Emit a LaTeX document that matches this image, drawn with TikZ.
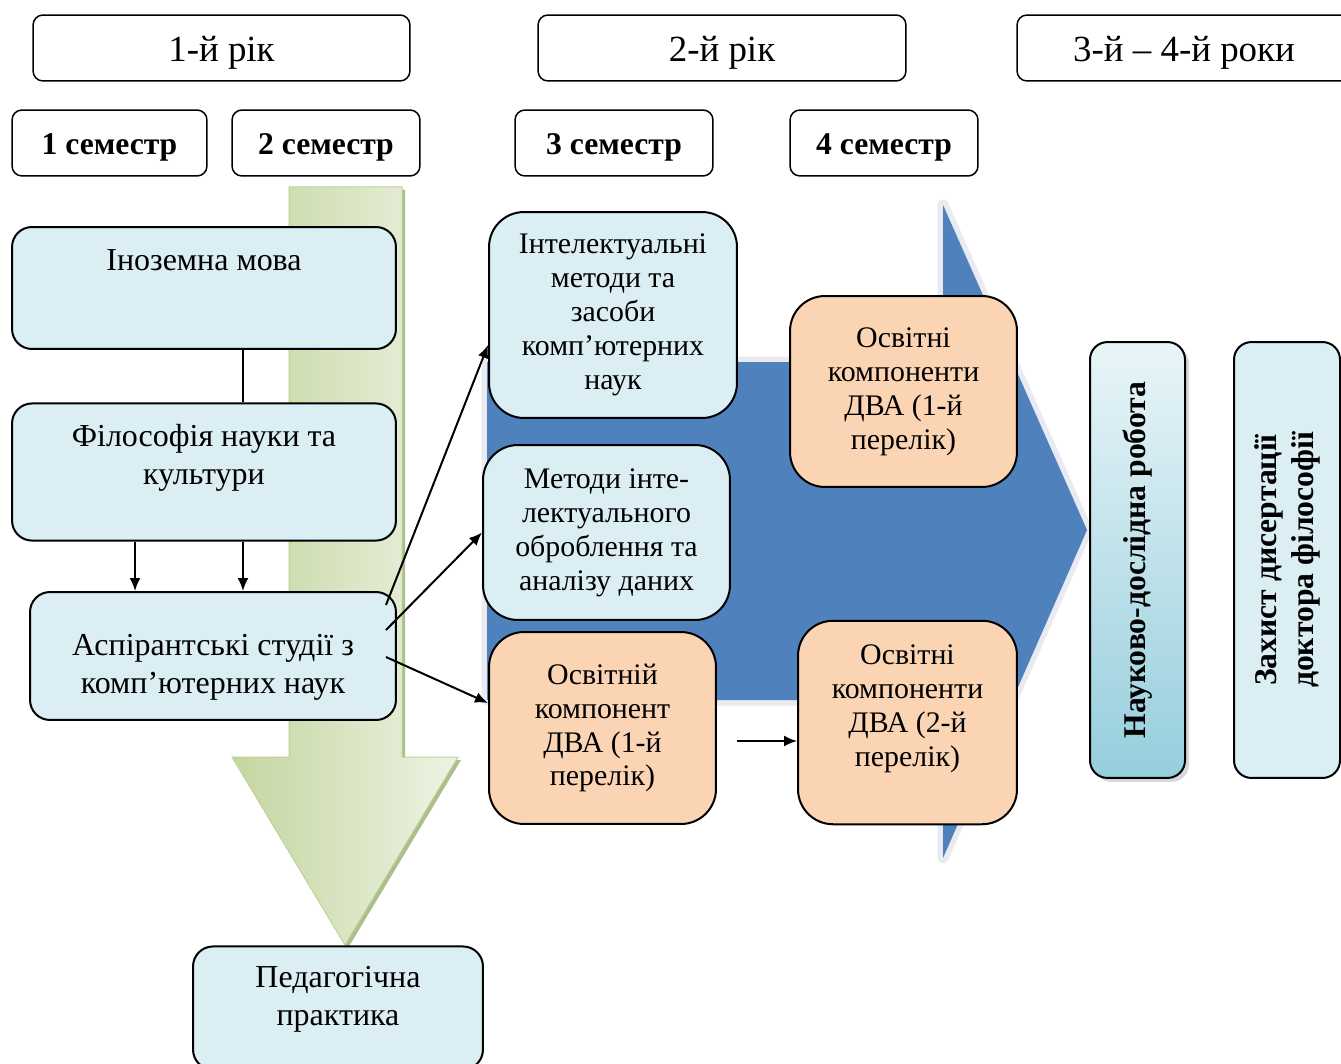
\documentclass[tikz,border=0pt]{standalone}
\usepackage{fontspec}
\setmainfont{Liberation Serif}
\usetikzlibrary{arrows.meta,shadows}
\definecolor{boxblue}{RGB}{218,238,243}
\definecolor{boxpeach}{RGB}{251,212,180}
\definecolor{arrowblue}{RGB}{79,129,189}
\definecolor{arrowrim}{RGB}{234,235,240}
\definecolor{greendark}{RGB}{196,214,160}
\definecolor{greenlight}{RGB}{238,243,228}
\definecolor{greenrim}{RGB}{190,210,150}
\definecolor{greenshadow}{RGB}{172,190,138}
\definecolor{researchdark}{RGB}{150,206,221}
\begin{document}
\begin{tikzpicture}[x=0.02cm, y=-0.02cm,
            yearbox/.style={draw, line width=0.03cm, rounded corners=0.2cm, inner ysep=0pt, text height=0.94cm, text depth=0.38cm, font=\fontsize{21}{24}\selectfont},
            sembox/.style={draw, line width=0.03cm, rounded corners=0.2cm, inner ysep=0pt, text height=0.9cm, text depth=0.42cm, font=\fontsize{18}{22}\selectfont\bfseries},
            lbox/.style={draw, line width=0.04cm, rounded corners=0.4cm, fill=boxblue, align=center, font=\fontsize{18.2}{21.6}\selectfont},
            mbox/.style={draw, line width=0.04cm, rounded corners=0.7cm, fill=boxblue, align=center, font=\fontsize{17}{19.3}\selectfont},
            pbox/.style={mbox, fill=boxpeach},
            vertbox/.style={draw, line width=0.04cm, rounded corners=0.35cm, rotate=90, minimum width=8.72cm, align=center, font=\fontsize{18}{21}\selectfont\bfseries},
            arr/.style={-{Latex[length=0.26cm,width=0.22cm]}, line width=0.04cm}]
            \useasboundingbox (0,0) rectangle (1341,1064);
            \fill[white] (0,0) rectangle (1341,1064);
            \fill[greenshadow] (292,190) -- (405,190) -- (405,760) -- (461,760) -- (348,948) -- (235,760) -- (292,760) -- cycle;
            \shade[left color=greendark, right color=greenlight, draw=greenrim, line width=0.02cm] (289,187) -- (402,187) -- (402,757) -- (458,757) -- (345,945) -- (232,757) -- (289,757) -- cycle;
            \draw[arrowrim, fill=arrowrim, line width=0.22cm, line join=round] (487,362) -- (943,362) -- (943,205) -- (1087,530) -- (943,858) -- (943,700) -- (487,700) -- cycle;
            \fill[arrowblue] (487,362) -- (943,362) -- (943,205) -- (1087,530) -- (943,858) -- (943,700) -- (487,700) -- cycle;
            \node[yearbox, minimum width=7.54cm] (yr1) at (221.5,48) {1-й рік};
            \node[yearbox, minimum width=7.36cm] (yr2) at (722,48) {2-й рік};
            \node[yearbox, minimum width=6.68cm] (yr34) at (1184,48) {3-й – 4-й роки};
            \node[sembox, minimum width=3.9cm] (sem1) at (109.5,143) {1 семестр};
            \node[sembox, minimum width=3.76cm] (sem2) at (326,143) {2 семестр};
            \node[sembox, minimum width=3.96cm] (sem3) at (614,143) {3 семестр};
            \node[sembox, minimum width=3.76cm] (sem4) at (884,143) {4 семестр};
            \node[lbox, minimum width=7.68cm, inner ysep=0pt, text height=0.86cm, text depth=1.58cm] (lang) at (204,288) {Іноземна мова};
            \node[lbox, minimum width=7.68cm, inner ysep=0.42cm, text depth=0.7cm] (phil) at (204,472) {Філософія науки та\\культури};
            \node[lbox, minimum width=7.32cm, minimum height=2.56cm] (asp) at (213,656) {};
            \node[align=center, font=\fontsize{18.2}{21.6}\selectfont] (asptext) at (213,667) {Аспірантські студії з\\комп’ютерних наук};
            \node[lbox, minimum width=5.8cm, inner ysep=0.4cm, text depth=0.48cm] (ped) at (338,1008) {Педагогічна\\практика};
            \node[mbox, minimum width=4.96cm, minimum height=4.12cm] (intel) at (613,315) {Інтелектуальні\\методи та\\засоби\\комп’ютерних\\наук};
            \node[mbox, minimum width=4.94cm, minimum height=3.5cm] (data) at (606.5,532.5) {Методи інте-\\лектуального\\оброблення та\\аналізу даних};
            \node[pbox, minimum width=4.54cm, minimum height=3.84cm] (comp1) at (602.5,728) {Освітній\\компонент\\ДВА (1-й\\перелік)};
            \node[pbox, minimum width=4.54cm, minimum height=3.82cm] (comps1) at (903.5,391.5) {Освітні\\компоненти\\ДВА (1-й\\перелік)};
            \node[pbox, minimum width=4.38cm, inner ysep=0.48cm, text depth=0.68cm] (comps2) at (907.5,722.5) {Освітні\\компоненти\\ДВА (2-й\\перелік)};
            \node[vertbox, minimum height=1.9cm, top color=boxblue!60!white, bottom color=researchdark, drop shadow={shadow xshift=0.08cm, shadow yshift=-0.08cm, fill=gray!60}] (research) at (1137.5,560) {Науково-дослідна робота};
            \node[vertbox, minimum height=2.12cm, fill=boxblue] (defence) at (1287,560) {Захист дисертації\\доктора філософії};
            \draw[line width=0.04cm] ([xshift=0.78cm]lang.south) -- ([xshift=0.78cm]lang.south |- phil.north);
            \draw[arr] ([xshift=-1.38cm]phil.south) -- ([xshift=-1.38cm]phil.south |- asp.north);
            \draw[arr] ([xshift=0.78cm]phil.south) -- ([xshift=0.78cm]phil.south |- asp.north);
            \draw[arr] ([shift={(-0.22cm,1.02cm)}]asp.east) -- ([yshift=-0.6cm]intel.west);
            \draw[arr] ([shift={(-0.22cm,0.52cm)}]asp.east) -- (data.west);
            \draw[arr] ([shift={(-0.22cm,-0.02cm)}]asp.east) -- ([yshift=0.5cm]comp1.west);
            \draw[arr] ([shift={(0.4cm,-0.26cm)}]comp1.east) -- ([yshift=-0.26cm]comp1.east -| comps2.west);
        \end{tikzpicture}
\end{document}
